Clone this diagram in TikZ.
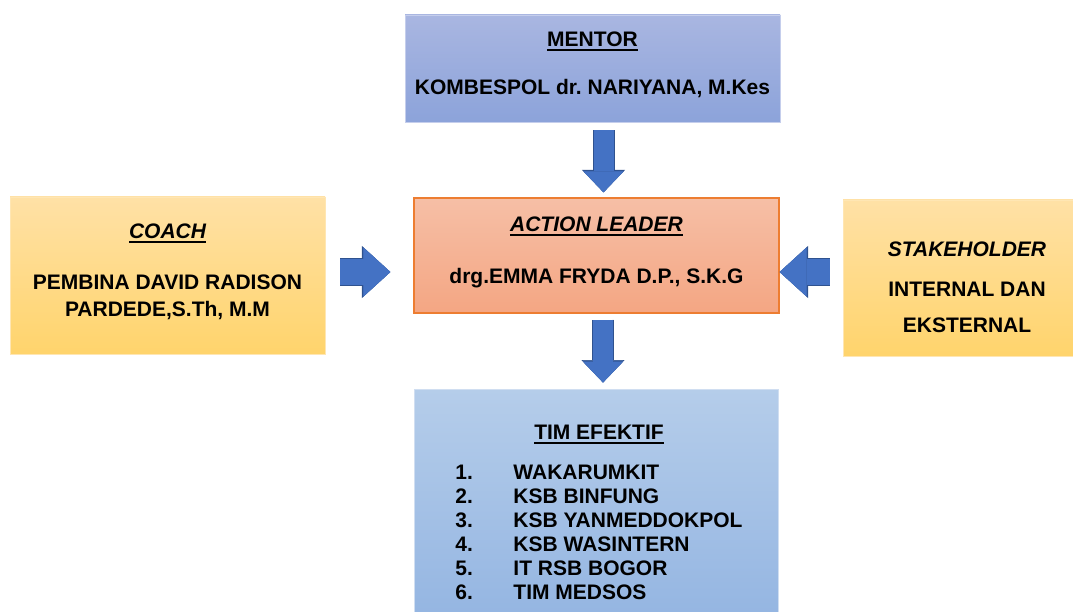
\documentclass[tikz,border=0pt]{standalone}
\usepackage{fontspec}
\setmainfont{Liberation Sans}
\usetikzlibrary{arrows.meta}
\definecolor{mentortop}{HTML}{A9B6E1}
\definecolor{mentorbot}{HTML}{8CA3DA}
\definecolor{mentorline}{HTML}{C5CEEC}
\definecolor{leadertop}{HTML}{F6BFA6}
\definecolor{leaderbot}{HTML}{F4A683}
\definecolor{leaderline}{HTML}{ED7D31}
\definecolor{coachtop}{HTML}{FFE1A6}
\definecolor{coachbot}{HTML}{FFD46C}
\definecolor{coachline}{HTML}{FFE6B3}
\definecolor{timtop}{HTML}{B5CDEA}
\definecolor{timbot}{HTML}{91B3E1}
\definecolor{timline}{HTML}{D0DEF1}
\definecolor{arrfill}{HTML}{4472C4}
\definecolor{arrline}{HTML}{2F528F}
\frenchspacing
\newcommand\hdul[1]{\setbox0\hbox{#1}\rlap{\raisebox{-4pt}{\rule{\wd0}{1.8pt}}}\box0}
\newcommand\hddepth{\rule[-10pt]{0pt}{10pt}}
\tikzset{
  hdbox/.style={rectangle,line width=0.8pt,align=center,inner sep=0pt,font=\bfseries\fontsize{21}{24}\selectfont},
  vblk/.style={draw=arrfill,line width=20pt,-{Triangle[length=21pt,width=40pt,line width=0.4pt,fill=arrfill,color=arrfill]},preaction={draw=arrline,line width=22pt,-{Triangle[length=22.5pt,width=43pt,line width=0.4pt,fill=arrline,color=arrline]}}},
  hblk/.style={draw=arrfill,line width=26pt,-{Triangle[length=27pt,width=49pt,line width=0.4pt,fill=arrfill,color=arrfill]},preaction={draw=arrline,line width=28pt,-{Triangle[length=28.5pt,width=52pt,line width=0.4pt,fill=arrline,color=arrline]}}}
}
\begin{document}
\begin{tikzpicture}[x=1pt,y=-1pt]
\useasboundingbox (0,0) rectangle (1073,612);
\clip (0,0) rectangle (1073,612);
\node[hdbox,draw=mentorline,top color=mentortop,bottom color=mentorbot,minimum width=375pt,minimum height=107pt] (mentor) at (592.5,68.5) {\hdul{MENTOR}\\[24pt]KOMBESPOL dr. NARIYANA, M.Kes\hddepth};
\node[hdbox,draw=leaderline,line width=1.2pt,top color=leadertop,bottom color=leaderbot,minimum width=365pt,minimum height=115pt] (leader) at (596.5,255.5) {\hdul{\itshape ACTION LEADER}\\[28pt]drg.EMMA FRYDA D.P., S.K.G\hddepth};
\node[hdbox,draw=coachline,top color=coachtop,bottom color=coachbot,minimum width=315pt,minimum height=157pt,font=\bfseries\fontsize{21}{27}\selectfont] (coach) at (167.5,275.5) {\hdul{\itshape COACH}\\[24pt]PEMBINA DAVID RADISON\\PARDEDE,S.Th, M.M\hddepth};
\node[hdbox,draw=coachline,top color=coachtop,bottom color=coachbot,minimum width=248pt,minimum height=156pt,font=\bfseries\fontsize{21}{36}\selectfont] (stake) at (967,278) {\rule{0pt}{33pt}{\itshape STAKEHOLDER}\\[4pt]INTERNAL DAN\\EKSTERNAL};
\node[hdbox,draw=timline,top color=timtop,bottom color=timbot,minimum width=364pt,minimum height=252pt] (tim) at (596,515) {\hspace{6pt}\begin{tabular}{@{}p{58pt}@{}l@{}}
\multicolumn{2}{c}{\hdul{TIM EFEKTIF}}\\[16pt]
1.&WAKARUMKIT\\
2.&KSB BINFUNG\\
3.&KSB YANMEDDOKPOL\\
4.&KSB WASINTERN\\
5.&IT RSB BOGOR\\
6.&TIM MEDSOS
\end{tabular}};
\draw[vblk] ([xshift=11pt,yshift=-8pt]mentor.south) -- ([xshift=7pt,yshift=5pt]leader.north);
\draw[vblk] ([xshift=6.5pt,yshift=-6pt]leader.south) -- ([xshift=7pt,yshift=6pt]tim.north);
\draw[hblk] ([xshift=15pt,yshift=3.5pt]coach.east) -- ([xshift=-23pt,yshift=-16.5pt]leader.west);
\draw[hblk] ([xshift=-13pt,yshift=6pt]stake.west) -- ([yshift=-16.5pt]leader.east);
\end{tikzpicture}
\end{document}
